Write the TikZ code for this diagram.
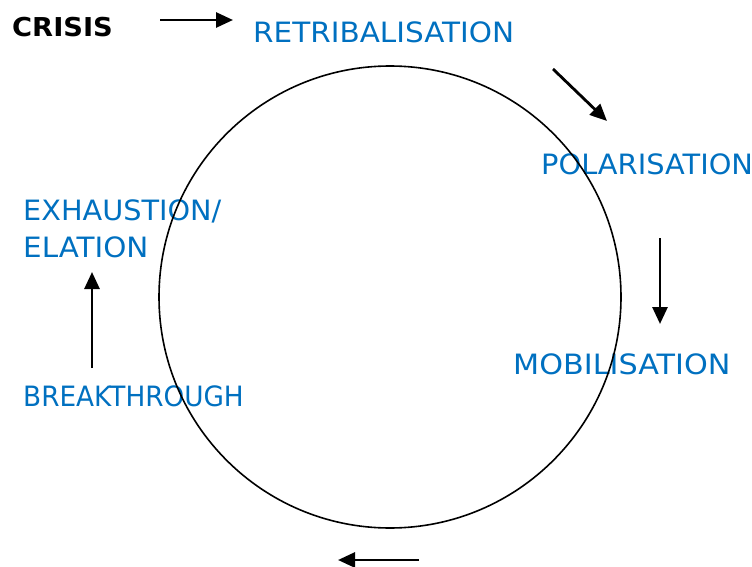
\documentclass[tikz,border=0pt]{standalone}
\usepackage{fontspec}
\usepackage{graphicx}
\setmainfont{DejaVu Sans}
\usetikzlibrary{arrows.meta}
\definecolor{lblue}{HTML}{0070C0}
\tikzset{
  stagelbl/.style={anchor=base west, inner sep=0pt, text=lblue, font=\fontsize{28}{37}\selectfont, align=left},
  flowarrow/.style={line width=2.8pt, -{Triangle[length=17pt,width=15pt]}},
}
\begin{document}
\begin{tikzpicture}[x=1pt,y=-1pt]
\useasboundingbox (0,0) rectangle (752,567);
\node[anchor=base west, inner sep=0pt, font=\fontsize{26}{30}\selectfont\bfseries] (crisis) at (12,37) {\scalebox{1.05}[1]{CRISIS}};
\node[stagelbl] (retri) at (253,43) {\scalebox{1.053}[1]{RETRIBALISATION}};
\node[stagelbl] (polar) at (541,175) {\scalebox{1.03}[1]{POLARISATION}};
\node[stagelbl] (mobil) at (513,374) {\scalebox{1.08}[1]{MOBILISATION}};
\node[stagelbl] (exh) at (23,220) {\scalebox{1.026}[1]{EXHAUSTION/}};
\node[stagelbl] (elat) at (23,257) {\scalebox{1.05}[1]{ELATION}};
\node[stagelbl] (break) at (23,406) {\scalebox{0.94}[1]{BREAKTHROUGH}};
\draw[line width=1.6pt] (390,297) circle (231);
\coordinate (a1s) at (160,20); \coordinate (a1e) at (233,20);
\coordinate (a2s) at (553,69); \coordinate (a2e) at (607,121);
\coordinate (a3s) at (660,238); \coordinate (a3e) at (660,324);
\coordinate (a4s) at (419,560); \coordinate (a4e) at (338,560);
\coordinate (a5s) at (92,368); \coordinate (a5e) at (92,272);
\draw[flowarrow] (a1s) -- (a1e);
\draw[flowarrow] (a2s) -- (a2e);
\draw[flowarrow] (a3s) -- (a3e);
\draw[flowarrow] (a4s) -- (a4e);
\draw[flowarrow] (a5s) -- (a5e);
\end{tikzpicture}
\end{document}
